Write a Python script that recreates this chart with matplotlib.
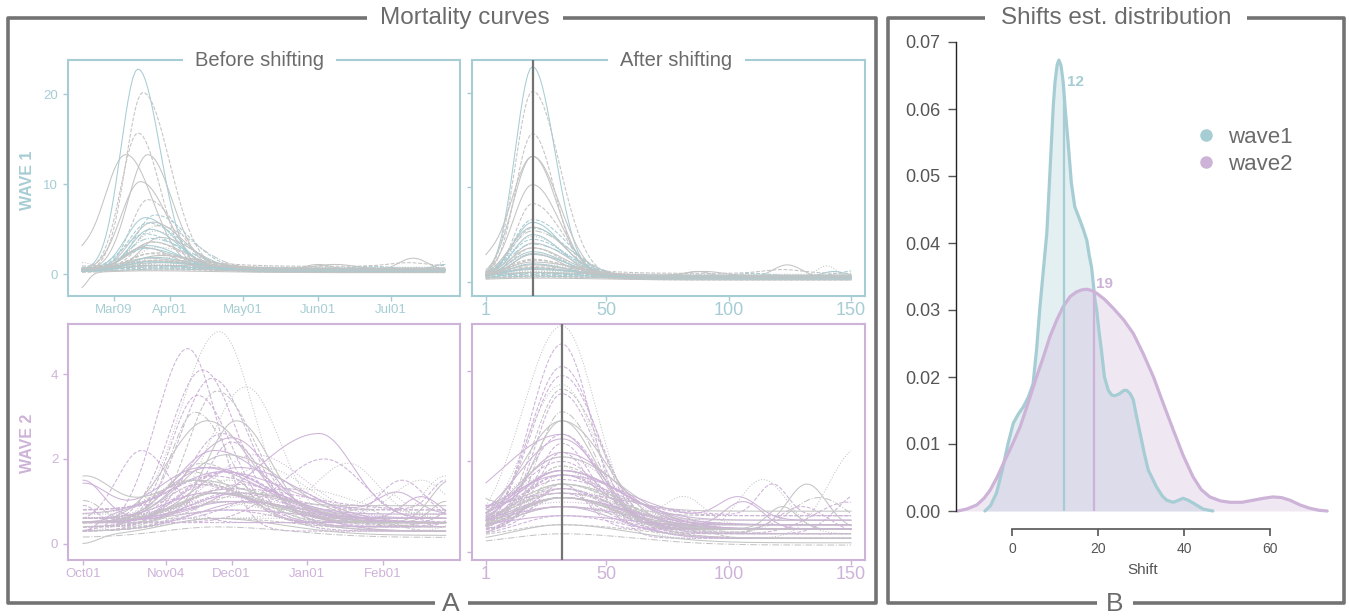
import numpy as np
import matplotlib.pyplot as plt
from matplotlib.lines import Line2D

W, H = 1349, 616
TEAL = "#a6cdd4"
LILAC = "#cdb3d8"
GREY = "#c4c4c4"
FRAME = "#737373"
TXT = "#6b6b6b"

# ---- wave 1 curves (days from 2020-02-25): amplitude, peak day, rise sd, fall sd, baseline
w1_amp = [22.3, 19.7, 15.2, 12.8, 12.8, 9.8, 7.8, 6.2, 5.8, 5.4, 5.1, 4.9, 4.6, 4.3,
          4.0, 3.7, 3.4, 3.1, 2.8, 2.5, 2.3, 2.0, 1.8, 1.5, 1.3, 1.1, 0.9, 0.8, 0.7,
          0.6, 0.5, 0.4, 0.3, 0.3, 0.2, 0.2, 0.1, 0.1, 1.6, 1.2, 0.9, 0.7, 0.5, 0.4,
          2.6, 3.0]
w1_peak = [24, 26, 24, 19, 28, 25, 28, 31, 27, 30, 28, 32, 29, 31, 27, 33, 29, 30, 28,
           32, 27, 31, 29, 33, 28, 31, 30, 34, 29, 32, 30, 28, 33, 31, 30, 29, 32, 30,
           30, 34, 29, 33, 31, 35, 26, 30]
w1_rise = [7, 7, 7, 9, 8, 8, 7, 8, 8, 9, 8, 9, 8, 9, 9, 8, 9, 8, 9, 9, 8, 10, 9, 10,
           10, 11, 10, 12, 11, 12, 12, 12, 14, 14, 15, 15, 15, 15, 10, 11, 10, 12, 12,
           14, 8, 9]
w1_fall = [9, 11, 9, 11, 10, 11, 12, 14, 12, 13, 14, 15, 12, 13, 14, 14, 15, 12, 13,
           16, 14, 15, 16, 18, 15, 18, 16, 20, 18, 20, 22, 20, 24, 24, 25, 25, 25, 25,
           16, 18, 17, 20, 22, 24, 12, 13]
w1_base = [0.5, 0.5, 0.5, 0.5, 0.5, 0.5, 0.5, 0.4, 0.5, 0.4, 0.6, 0.5, 0.4, 0.5, 0.5,
           0.4, 0.6, 0.5, 0.4, 0.5, 0.6, 0.4, 0.5, 0.6, 0.5, 0.4, 0.6, 0.5, 0.3, 0.7,
           0.4, 0.6, 0.3, 0.8, 0.5, 0.2, 0.7, 0.4, 0.3, 0.7, 0.5, 0.9, 0.2, 0.6, 0.4,
           0.6]
# extra bumps: (curve index, amplitude, day, sd)
w1_bumps = [(25, 0.7, 98, 6), (15, 1.4, 137, 6), (19, 1.2, 152, 4), (35, -1.8, 0, 3),
            (30, 0.5, 120, 10), (8, 0.6, 150, 5), (27, 0.8, 170, 10), (39, 0.6, 1, 4),
            (41, 0.4, 135, 8), (43, 0.5, 105, 8), (3, 1.0, 0, 4)]

# ---- wave 2 curves (days from 2020-10-01)
w2_amp = [4.3, 4.7, 3.6, 3.4, 3.2, 3.3, 3.0, 2.4, 2.0, 2.0, 2.6, 2.2, 1.7, 1.6, 1.5,
          1.4, 1.3, 1.3, 1.2, 1.2, 1.1, 1.0, 1.0, 0.9, 0.9, 0.8, 0.8, 0.7, 0.7, 0.6,
          0.6, 0.5, 0.5, 0.4, 0.4, 0.3, 0.3, 0.25, 1.5, 1.3, 1.0, 0.9, 1.7, 0.8, 0.7,
          0.6, 1.8, 2.4, 1.2, 1.0, 0.9, 0.8, 0.7, 0.6, 0.5, 0.9, 1.1, 0.7, 0.5, 0.4,
          1.3, 0.8]
w2_peak = [44, 57, 50, 54, 56, 68, 48, 52, 62, 98, 47, 58, 55, 60, 72, 50, 65, 45, 58,
           75, 52, 60, 48, 66, 55, 50, 62, 56, 70, 52, 60, 58, 64, 55, 60, 58, 62, 56,
           100, 110, 132, 140, 25, 85, 45, 90, 62, 64, 50, 58, 62, 54, 66, 48, 60, 70,
           53, 57, 64, 52, 60, 45]
w2_rise = [13, 16, 13, 13, 12, 15, 11, 16, 18, 25, 10, 14, 16, 18, 18, 14, 18, 12, 16,
           20, 15, 18, 14, 20, 16, 15, 18, 16, 22, 16, 20, 18, 22, 20, 22, 20, 22, 22,
           18, 14, 10, 12, 10, 20, 12, 18, 10, 12, 18, 20, 22, 16, 20, 14, 20, 22, 16,
           18, 22, 16, 18, 14]
w2_fall = [12, 14, 14, 15, 16, 14, 14, 18, 16, 14, 14, 16, 22, 24, 20, 18, 25, 20, 22,
           18, 20, 24, 22, 20, 24, 22, 26, 22, 22, 24, 26, 26, 28, 28, 30, 30, 30, 30,
           16, 12, 10, 10, 12, 15, 18, 20, 12, 14, 24, 26, 28, 22, 26, 20, 28, 24, 22,
           24, 28, 22, 20, 20]
w2_base = [0.3, 0.3, 0.5, 0.5, 0.4, 0.4, 0.5, 0.5, 0.5, 0.6, 0.5, 0.4, 0.5, 0.5, 0.6,
           0.5, 0.5, 0.4, 0.5, 0.6, 0.3, 0.5, 0.4, 0.5, 0.3, 0.6, 0.4, 0.5, 0.3, 0.6,
           0.4, 0.3, 0.5, 0.2, 0.6, 0.3, 0.5, 0.15, 0.5, 0.6, 0.5, 0.6, 0.5, 0.5, 0.8,
           0.7, 0.6, 0.5, 0.6, 0.7, 0.4, 0.8, 0.5, 0.9, 0.6, 0.3, 0.7, 0.5, 0.8, 0.6,
           0.4, 0.7]
w2_bumps = [(9, 0.9, 1, 8), (7, 1.0, 152, 8), (13, 0.5, 150, 6), (19, 0.6, 125, 8),
            (1, 2.0, 178, 12), (5, 1.2, 150, 10), (22, 0.9, 170, 10), (30, 0.8, 165, 12),
            (11, 0.7, 175, 14), (26, 0.6, 160, 10), (48, 0.8, 1, 10), (50, 0.6, 1, 8),
            (53, 0.7, 2, 10), (56, -0.4, 1, 6), (49, 0.5, 130, 8), (52, 0.6, 140, 8),
            (55, 0.4, 118, 8), (58, 0.7, 150, 6), (33, -0.2, 1, 6), (60, 0.5, 1, 6)]

w1_start, w2_start = "2020-02-25", "2020-10-01"
w1_ticks = ["2020-03-09", "2020-04-01", "2020-05-01", "2020-06-01", "2020-07-01"]
w1_ticklabels = ["Mar09", "Apr01", "May01", "Jun01", "Jul01"]
w2_ticks = ["2020-10-01", "2020-11-04", "2020-12-01", "2021-01-01", "2021-02-01"]
w2_ticklabels = ["Oct01", "Nov04", "Dec01", "Jan01", "Feb01"]
w1_align, w2_align = 20, 32
after_ticks = [1, 50, 100, 150]

# ---- shift density
dens1_x = [-6.3, -5.0, -3.6, -2.3, -0.9, 0.3, 1.5, 2.6, 3.8, 4.9, 5.7, 6.5, 7.3, 8.1,
           8.7, 9.2, 9.6, 10.0, 10.5, 10.9, 11.4, 11.9, 12.5, 13.0, 13.8, 14.6, 15.8,
           16.6, 17.4, 18.0, 18.5, 19.3, 19.7, 20.2, 20.8, 21.5, 22.4, 23.2, 23.9,
           25.0, 26.0, 26.7, 27.5, 28.2, 29.0, 29.8, 30.8, 31.7, 33.6, 35.0, 36.0,
           37.5, 38.7, 39.8, 41.0, 42.1, 44.4, 46.7]
dens1_y = [0.0, 0.0008, 0.0027, 0.006, 0.0101, 0.0131, 0.0145, 0.0155, 0.017, 0.019,
           0.024, 0.0305, 0.036, 0.0415, 0.049, 0.0554, 0.0605, 0.064, 0.0666, 0.0673,
           0.0665, 0.064, 0.059, 0.0554, 0.049, 0.0454, 0.0434, 0.042, 0.0404, 0.038,
           0.0364, 0.0315, 0.030, 0.027, 0.024, 0.020, 0.018, 0.0173, 0.0172, 0.0175,
           0.018, 0.018, 0.0175, 0.0166, 0.014, 0.0116, 0.0085, 0.0061, 0.0036, 0.0022,
           0.0016, 0.0013, 0.0016, 0.0019, 0.0016, 0.0012, 0.0003, 0.0]
dens2_x = [-12.6, -10.5, -8.2, -6.5, -5.1, -3.5, -2.0, 0.0, 1.9, 3.8, 5.7, 7.3, 8.8,
           10.4, 11.9, 13.5, 15.0, 16.2, 17.4, 18.6, 19.7, 21.5, 23.5, 26.0, 28.2,
           30.5, 32.9, 35.2, 37.5, 39.8, 42.1, 44.0, 46.0, 48.5, 50.7, 53.5, 56.0,
           58.5, 60.7, 62.7, 64.7, 67.0, 69.3, 71.5, 73.3]
dens2_y = [0.0, 0.0003, 0.0009, 0.0019, 0.0031, 0.005, 0.0071, 0.0098, 0.0126, 0.0162,
           0.020, 0.023, 0.026, 0.0285, 0.0305, 0.032, 0.0327, 0.033, 0.0331, 0.0329,
           0.0325, 0.0316, 0.0303, 0.0285, 0.0265, 0.0235, 0.020, 0.016, 0.0121,
           0.0083, 0.0051, 0.0032, 0.0021, 0.0015, 0.0013, 0.0013, 0.0016, 0.0019,
           0.0021, 0.002, 0.0016, 0.0009, 0.0004, 0.0001, 0.0]
mode1, mode2 = 12, 19

plt.rcParams['font.family'] = ['Liberation Sans', 'DejaVu Sans']
fig = plt.figure(figsize=(W / 100, H / 100), dpi=100)


def px_axes(x0, y0, x1, y1, **kw):
    return fig.add_axes([x0 / W, 1 - y1 / H, (x1 - x0) / W, (y1 - y0) / H], **kw)


def curve(t, i, amp, peak, rise, fall, base, bumps):
    sd = np.where(t < peak[i], rise[i], fall[i])
    y = base[i] + amp[i] * np.exp(-0.5 * ((t - peak[i]) / sd) ** 2)
    for j, a, d, s in bumps:
        if j == i:
            y = y + a * np.exp(-0.5 * ((t - d) / s) ** 2)
    return y


# ---- outer frames
bg = px_axes(0, 0, W, H)
bg.set_xlim(0, W)
bg.set_ylim(H, 0)
bg.axis("off")
fk = dict(color=FRAME, lw=2.6, solid_joinstyle="round", solid_capstyle="butt")
bg.plot([367, 8, 8, 435], [18, 18, 603, 603], **fk)
bg.plot([468, 876, 876, 563], [603, 603, 18, 18], **fk)
bg.plot([985, 888, 888, 1097], [18, 18, 603, 603], **fk)
bg.plot([1133, 1344, 1344, 1247], [603, 603, 18, 18], **fk)
bg.text(465, 18, "Mortality curves", ha="center", va="center", fontsize=17.5, color=TXT)
bg.text(1116, 18, "Shifts est. distribution", ha="center", va="center", fontsize=17.5, color=TXT)
bg.text(451, 604, "A", ha="center", va="center", fontsize=19, color=TXT)
bg.text(1115, 604, "B", ha="center", va="center", fontsize=19, color=TXT)
fig.text(28 / W, 1 - 180 / H, "WAVE 1", rotation=90, ha="center", va="center",
         fontsize=11.5, fontweight="bold", color=TEAL)
fig.text(28 / W, 1 - 443 / H, "WAVE 2", rotation=90, ha="center", va="center",
         fontsize=11.5, fontweight="bold", color=LILAC)

# colour (a = wave accent, g = grey) + line style, cycled over curves
pat1 = ["a-", "g--", "g--", "g-", "g-", "g-", "g--", "a--", "a-", "g-", "a--", "g-.",
        "a-", "g:", "a--", "g-", "a-.", "g--", "a-", "g:"]
pat2 = ["a--", "g:", "a--", "a--", "g--", "g:", "a--", "g-", "a-", "a-", "g-.", "a--",
        "a-", "g-", "a:", "g--", "a-", "g-.", "a--", "g:"]


def style_panel(ax, accent, gap=None, title=None, tcx=None):
    for sp in ax.spines.values():
        sp.set_color(accent)
        sp.set_linewidth(1.5)
    ax.tick_params(colors=accent, direction="out", length=3.5, width=1)
    if gap is not None:
        ax.spines["top"].set_visible(False)
        for a, b in [(0, gap[0]), (gap[1], 1)]:
            ax.plot([a, b], [1, 1], transform=ax.transAxes, clip_on=False,
                    color=accent, lw=1.5, solid_capstyle="butt")
        ax.text(tcx, 1.0, title, transform=ax.transAxes, ha="center", va="center",
                fontsize=14.5, color=TXT)


waves = [
    dict(amp=w1_amp, peak=w1_peak, rise=w1_rise, fall=w1_fall, base=w1_base,
         bumps=w1_bumps, start=w1_start, ticks=w1_ticks, labels=w1_ticklabels,
         align=w1_align, accent=TEAL, top=60, bot=296, xpx0=82, pat=pat1,
         ylb=(-2.4, 23.8), yla=(-1.5, 23.5), yt=[0, 10, 20], tl=True),
    dict(amp=w2_amp, peak=w2_peak, rise=w2_rise, fall=w2_fall, base=w2_base,
         bumps=w2_bumps, start=w2_start, ticks=w2_ticks, labels=w2_ticklabels,
         align=w2_align, accent=LILAC, top=324, bot=560, xpx0=83, pat=pat2,
         ylb=(-0.38, 5.18), yla=(-0.18, 5.04), yt=[0, 2, 4], tl=False),
]

t = np.arange(1, 151)
for wv in waves:
    acc = wv["accent"]
    axb = px_axes(68, wv["top"], 460, wv["bot"])
    axa = px_axes(472, wv["top"], 865, wv["bot"])
    n = len(wv["amp"])
    for i in range(n):
        p = wv["pat"][i % len(wv["pat"])]
        col = acc if p[0] == "a" else GREY
        ls = p[1:]
        yb = curve(t, i, wv["amp"], wv["peak"], wv["rise"], wv["fall"], wv["base"], wv["bumps"])
        shift = wv["peak"][i] - wv["align"]
        ya = curve(t + shift, i, wv["amp"], wv["peak"], wv["rise"], wv["fall"], wv["base"], wv["bumps"])
        axb.plot(t, yb, color=col, lw=0.75, ls=ls)
        axa.plot(t, ya, color=col, lw=0.75, ls=ls)
    # before: date ticks
    d0 = np.datetime64(wv["start"])
    pos = (np.array(wv["ticks"], dtype="datetime64[D]") - d0).astype(int) + 1
    pxd = 2.435
    axb.set_xlim(1 - (wv["xpx0"] - 68) / pxd, 1 + (460 - wv["xpx0"]) / pxd)
    axb.set_xticks(pos, wv["labels"], fontsize=9.5)
    axb.set_ylim(*wv["ylb"])
    axb.set_yticks(wv["yt"], [str(v) for v in wv["yt"]], fontsize=9.5)
    # after
    axa.axvline(wv["align"], color=FRAME, lw=1.6, zorder=5)
    axa.set_xlim(1 - 14 / 2.45, 1 + 379 / 2.45)
    axa.set_xticks(after_ticks, [str(v) for v in after_ticks], fontsize=13)
    axa.set_ylim(*wv["yla"])
    axa.set_yticks(wv["yt"], [])
    if wv["tl"]:
        style_panel(axb, acc, (0.293, 0.684), "Before shifting", 0.489)
        style_panel(axa, acc, (0.346, 0.695), "After shifting", 0.520)
    else:
        style_panel(axb, acc)
        style_panel(axa, acc)
    axb.tick_params(axis="x", pad=2)
    axa.tick_params(axis="x", pad=1)

# ---- density panel
ax = px_axes(956, 35, 1330, 518)
ax.fill_between(dens1_x, dens1_y, color=TEAL, alpha=0.3, lw=0)
ax.fill_between(dens2_x, dens2_y, color=LILAC, alpha=0.3, lw=0)
ax.plot(dens1_x, dens1_y, color=TEAL, lw=2.3, solid_capstyle="round")
ax.plot(dens2_x, dens2_y, color=LILAC, lw=2.3, solid_capstyle="round")
ax.vlines(mode1, 0, np.interp(mode1, dens1_x, dens1_y), color=TEAL, lw=1.6)
ax.vlines(mode2, 0, np.interp(mode2, dens2_x, dens2_y), color=LILAC, lw=1.6)
ax.text(mode1 + 0.8, np.interp(mode1, dens1_x, dens1_y) + 0.0008, str(mode1),
        color=TEAL, fontsize=11, fontweight="bold", ha="left", va="center")
ax.text(mode2 + 0.6, np.interp(mode2, dens2_x, dens2_y) + 0.0012, str(mode2),
        color=LILAC, fontsize=11, fontweight="bold", ha="left", va="center")
ax.set_xlim((956 - 1012) / 4.3, (1330 - 1012) / 4.3)
ax.set_ylim(-7 / 6700, 0.07 + 7 / 6700)
yt = np.arange(0, 0.071, 0.01)
ax.set_yticks(yt, [f"{v:.2f}" for v in yt], fontsize=13)
ax.set_xticks([0, 20, 40, 60], ["0", "20", "40", "60"], fontsize=13)
for s in ["top", "right"]:
    ax.spines[s].set_visible(False)
ax.spines["left"].set_bounds(0, 0.07)
ax.spines["left"].set_color("#222222")
ax.spines["left"].set_linewidth(1.0)
ax.spines["bottom"].set_bounds(0, 60)
ax.spines["bottom"].set_position(("outward", 8))
ax.spines["bottom"].set_color("#555555")
ax.spines["bottom"].set_linewidth(1.2)
ax.tick_params(axis="y", direction="out", length=6, width=1, color="#555555",
               labelcolor="#555555", pad=5)
ax.tick_params(axis="x", direction="out", length=5, width=1.2, color="#555555",
               labelcolor="#555555", pad=4)
ax.set_xlabel("Shift", fontsize=11, color="#555555")
ax.xaxis.set_label_coords(0.5, -0.093)
handles = [Line2D([], [], ls="", marker="o", ms=8, color=TEAL),
           Line2D([], [], ls="", marker="o", ms=8, color=LILAC)]
ax.legend(handles, ["wave1", "wave2"], loc="center left", bbox_to_anchor=(0.639, 0.76),
          frameon=False, fontsize=16, labelcolor=TXT, handlelength=1.0,
          handletextpad=0.5, borderpad=0, borderaxespad=0, labelspacing=0.25)

fig.savefig("out.png", dpi=100)
